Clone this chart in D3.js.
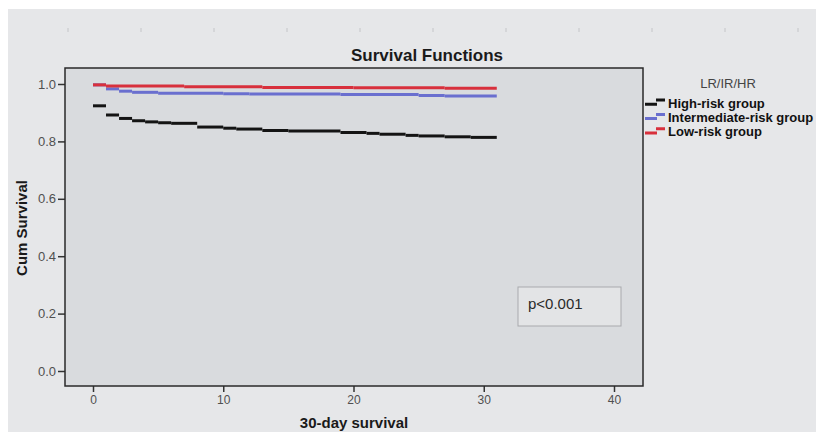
<!DOCTYPE html>
<html lang="en">
<head>
    <meta charset="UTF-8">
    <title>Survival Functions</title>
    <script src="https://d3js.org/d3.v7.min.js"></script>
    <style>
        body { margin: 0; background: #ffffff; }
        text { font-family: "Liberation Sans", Arial, sans-serif; }
    </style>
</head>
<body>
<svg id="chart" width="816" height="432"></svg>

<script>
    // Kaplan-Meier step values (time in days, cumulative survival)
    const groups = ["High-risk group", "Intermediate-risk group", "Low-risk group"];
    const groupColors = ["#141414", "#6a6fcf", "#d8303c"];

    const highTimes = [0, 1, 2, 3, 4, 5, 6, 8, 10, 11, 13, 15, 19, 21, 22, 24, 25, 27, 29];
    const highSurv  = [0.924, 0.892, 0.880, 0.872, 0.868, 0.865, 0.863, 0.850, 0.846, 0.843,
                       0.838, 0.836, 0.831, 0.828, 0.825, 0.821, 0.819, 0.816, 0.814];

    const interTimes = [0, 1, 2, 3, 5, 10, 12, 19, 25, 27];
    const interSurv  = [0.997, 0.983, 0.975, 0.971, 0.968, 0.966, 0.965, 0.963, 0.960, 0.958];

    const lowTimes = [0, 1, 7, 13, 20, 27];
    const lowSurv  = [0.997, 0.993, 0.990, 0.988, 0.987, 0.985];

    const followUpEnd = 31;

    const xTicks = [0, 10, 20, 30, 40];
    const yTicks = [0, 0.2, 0.4, 0.6, 0.8, 1.0];
    const pText = "p<0.001";

    const svg = d3.select("#chart");

    // grey page background (small white margin top/left like the screenshot)
    svg.append("rect")
        .attr("x", 8).attr("y", 9)
        .attr("width", 808).attr("height", 423)
        .attr("fill", "#e6e7e9");

    // faint dotted marks along the top of the screenshot
    svg.selectAll(".dot")
        .data(d3.range(68, 816, 73))
        .enter()
        .append("line")
        .attr("x1", d => d).attr("x2", d => d)
        .attr("y1", 28).attr("y2", 32)
        .attr("stroke", "#c4c5c8")
        .attr("stroke-width", 1);

    // plot frame
    const box = { left: 65, right: 643, top: 68, bottom: 386 };

    const x = d3.scaleLinear().domain([0, 40]).range([93, 614]);
    const y = d3.scaleLinear().domain([0, 1]).range([371, 84]);

    svg.append("rect")
        .attr("x", box.left).attr("y", box.top)
        .attr("width", box.right - box.left)
        .attr("height", box.bottom - box.top)
        .attr("fill", "#d9dbde");

    // title
    svg.append("text")
        .attr("x", 427).attr("y", 61)
        .attr("text-anchor", "middle")
        .attr("font-size", "17px")
        .attr("font-weight", "bold")
        .attr("fill", "#1a1a1a")
        .text("Survival Functions");

    // y axis
    const yAxis = svg.append("g")
        .attr("transform", `translate(${box.left},0)`)
        .call(d3.axisLeft(y).tickValues(yTicks).tickFormat(d3.format(".1f")).tickSize(7).tickPadding(2));
    yAxis.select(".domain").remove();
    yAxis.selectAll(".tick line").attr("stroke", "#333").attr("stroke-width", 1.5);
    yAxis.selectAll(".tick text")
        .attr("font-family", "Liberation Sans, Arial, sans-serif")
        .attr("font-size", "13px")
        .attr("fill", "#505050");

    // x axis
    const xAxis = svg.append("g")
        .attr("transform", `translate(0,${box.bottom})`)
        .call(d3.axisBottom(x).tickValues(xTicks).tickSize(6).tickPadding(3));
    xAxis.select(".domain").remove();
    xAxis.selectAll(".tick line").attr("stroke", "#333").attr("stroke-width", 1.5);
    xAxis.selectAll(".tick text")
        .attr("font-family", "Liberation Sans, Arial, sans-serif")
        .attr("font-size", "12px")
        .attr("fill", "#505050");

    // frame on top of the fill
    svg.append("rect")
        .attr("x", box.left).attr("y", box.top)
        .attr("width", box.right - box.left)
        .attr("height", box.bottom - box.top)
        .attr("fill", "none")
        .attr("stroke", "#2a2a2a")
        .attr("stroke-width", 1.5);

    // axis titles
    svg.append("text")
        .attr("transform", "rotate(-90)")
        .attr("x", -228).attr("y", 27)
        .attr("text-anchor", "middle")
        .attr("font-size", "15px")
        .attr("font-weight", "bold")
        .attr("fill", "#1a1a1a")
        .text("Cum Survival");

    svg.append("text")
        .attr("x", 354).attr("y", 428)
        .attr("text-anchor", "middle")
        .attr("font-size", "15px")
        .attr("font-weight", "bold")
        .attr("fill", "#1a1a1a")
        .text("30-day survival");

    // survival steps: horizontal runs only (no vertical drops, as in the picture)
    function steps(times, surv) {
        return times.map((t, i) => ({
            t0: t,
            t1: i < times.length - 1 ? times[i + 1] : followUpEnd,
            s: surv[i]
        }));
    }

    const series = [
        { name: groups[0], color: groupColors[0], segs: steps(highTimes, highSurv) },
        { name: groups[1], color: groupColors[1], segs: steps(interTimes, interSurv) },
        { name: groups[2], color: groupColors[2], segs: steps(lowTimes, lowSurv) }
    ];

    series.forEach(sr => {
        svg.append("g")
            .selectAll("line")
            .data(sr.segs)
            .enter()
            .append("line")
            .attr("x1", d => x(d.t0))
            .attr("x2", d => x(d.t1))
            .attr("y1", d => y(d.s))
            .attr("y2", d => y(d.s))
            .attr("stroke", sr.color)
            .attr("stroke-width", 3);
    });

    // p-value box
    svg.append("rect")
        .attr("x", 518).attr("y", 287)
        .attr("width", 103).attr("height", 39)
        .attr("fill", "#e3e4e6")
        .attr("stroke", "#a9aaad")
        .attr("stroke-width", 1);

    svg.append("text")
        .attr("x", 528).attr("y", 309)
        .attr("font-size", "15px")
        .attr("fill", "#2a2a2a")
        .text(pText);

    // legend
    svg.append("text")
        .attr("x", 728).attr("y", 88)
        .attr("text-anchor", "middle")
        .attr("font-size", "13px")
        .attr("fill", "#444")
        .text("LR/IR/HR");

    const legend = svg.append("g")
        .selectAll("g")
        .data(series)
        .enter()
        .append("g")
        .attr("transform", (d, i) => `translate(0,${103 + i * 14.4})`);

    legend.append("path")
        .attr("d", "M645,1.2H657M656,-3H665")
        .attr("stroke", d => d.color)
        .attr("stroke-width", 3)
        .attr("fill", "none");

    legend.append("text")
        .attr("x", 668).attr("y", 4.6)
        .attr("font-size", "13px")
        .attr("font-weight", "bold")
        .attr("fill", "#111")
        .text(d => d.name);
</script>
</body>
</html>
